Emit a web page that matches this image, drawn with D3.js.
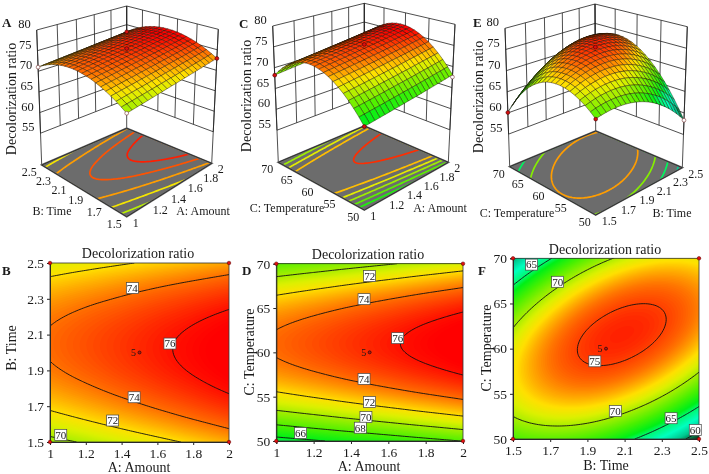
<!DOCTYPE html>
<html><head><meta charset="utf-8">
<style>
html,body{margin:0;padding:0;background:#fff;overflow:hidden}
svg{display:block;filter:blur(.35px)}
text{font-family:"Liberation Serif",serif;fill:#1a1a1a}
</style>
<script src="https://cdnjs.cloudflare.com/ajax/libs/d3/7.8.5/d3.min.js"></script>
</head><body><svg id="c" width="709" height="474"></svg>
<script>
// ---------- data ----------
const amountTicks=[1,1.2,1.4,1.6,1.8,2];
const timeTicks=[1.5,1.7,1.9,2.1,2.3,2.5];
const tempTicks=[50,55,60,65,70];
const zTicks=[55,60,65,70,75,80];
const zBottom=47.3, zTop=80;

// response read on a 9 x 9 lattice: outer index = first factor, inner = second factor (low to high)
const ratioAmountTime=[
[69.49,71.37,72.76,73.68,74.11,74.06,73.53,72.52,71.03],
[69.92,71.78,73.15,74.05,74.46,74.39,73.84,72.81,71.29],
[70.35,72.19,73.54,74.41,74.80,74.71,74.14,73.08,71.55],
[70.79,72.60,73.93,74.78,75.14,75.03,74.43,73.36,71.80],
[71.21,73.01,74.31,75.14,75.49,75.35,74.74,73.64,72.06],
[71.64,73.41,74.70,75.51,75.83,75.68,75.04,73.92,72.32],
[72.07,73.82,75.08,75.87,76.17,75.99,75.33,74.19,72.57],
[72.50,74.22,75.47,76.23,76.51,76.31,75.63,74.46,72.82],
[72.92,74.63,75.85,76.59,76.85,76.63,75.93,74.74,73.08]];
const ratioAmountTemp=[
[65.29,68.87,71.53,73.28,74.11,74.01,73.00,71.07,68.23],
[65.63,69.21,71.87,73.62,74.45,74.35,73.34,71.41,68.57],
[65.97,69.55,72.21,73.96,74.79,74.69,73.68,71.75,68.91],
[66.32,69.90,72.56,74.31,75.14,75.04,74.03,72.10,69.26],
[66.66,70.24,72.90,74.65,75.48,75.38,74.37,72.44,69.60],
[67.00,70.58,73.24,74.99,75.82,75.72,74.71,72.78,69.94],
[67.35,70.93,73.59,75.34,76.17,76.07,75.06,73.13,70.29],
[67.69,71.27,73.93,75.68,76.51,76.41,75.40,73.47,70.63],
[68.04,71.62,74.28,76.03,76.86,76.76,75.75,73.82,70.98]];
const ratioTimeTemp=[
[67.75,70.00,71.33,71.75,71.26,69.85,67.53,64.30,60.16],
[68.22,70.79,72.45,73.19,73.03,71.95,69.95,67.05,63.23],
[68.22,71.12,73.10,74.17,74.32,73.56,71.89,69.31,65.82],
[67.76,70.98,73.28,74.67,75.15,74.72,73.37,71.11,67.94],
[66.82,70.36,72.99,74.70,75.50,75.39,74.37,72.44,69.59],
[65.40,69.26,72.21,74.26,75.38,75.60,74.90,73.29,70.77],
[63.52,67.71,70.98,73.35,74.80,75.34,74.96,73.68,71.48],
[61.17,65.68,69.28,71.96,73.74,74.60,74.55,73.59,71.71],
[58.34,63.18,67.10,70.11,72.21,73.40,73.67,73.03,71.48]];

const levelsAB=[70,72,74,76], levelsAC=[66,68,70,72,74,76], levelsBC=[60,65,70,75];
const floorLevelsA=[70.3,71.7,73.2,74.6,75.7];
const floorLevelsC=[66.8,68.3,69.8,71.2,72.6,75.4];
const floorLevelsE=[60,64,68,72];
const labelsAB=[[74,1.46,2.36],[76,1.67,2.05],[74,1.47,1.75],[72,1.35,1.62],[70,1.06,1.54]];
const labelsAC=[[72,1.5,68.6],[74,1.47,66],[76,1.65,61.6],[74,1.47,57],[72,1.5,54.4],[70,1.48,52.7],[68,1.45,51.5],[66,1.13,50.9]];
const labelsBC=[[65,1.6,69.3],[70,1.74,67.4],[75,1.94,58.6],[70,2.05,53.1],[65,2.35,52.3],[60,2.48,51.0]];

// design points on the 3D views: first factor, second factor, response, open?
const pointsA=[[1,1.5,69.5,1],[1,2.5,71,1],[2,1.5,72.9,0],[2,2.5,73.1,0],[1.5,2,75.4,0]];
const pointsC=[[1,50,65.3,0],[1,70,68.2,0],[2,50,67.5,1],[1.5,60,75.4,0]];
const pointsE=[[1.5,50,67.7,0],[1.5,70,60.1,0],[2.5,50,58.3,1],[2,60,75.4,0]];

const colorStops=[58,59.5,61,63,65,66,68,70,71,72,73,74,75,76,76.5,78];
const colorValues=["#101810","#0a6a3c","#00c890","#00ffc0","#00f870","#00f018","#50f000","#a8ee00","#dcf000","#ffe000","#ffa800","#ff7000","#ff4000","#ff1000","#ff0000","#ff0000"];

// ---------- helpers ----------
const color=d3.scaleLinear().domain(colorStops).range(colorValues).clamp(true);
const svg=d3.select("#c");
const SERIF='"Liberation Serif",serif';

function at(g,i,j){
  const n=g.length-1,m=g[0].length-1;
  if(i<0) return 3*at(g,0,j)-3*at(g,1,j)+at(g,2,j);
  if(i>n) return 3*at(g,n,j)-3*at(g,n-1,j)+at(g,n-2,j);
  if(j<0) return 3*g[i][0]-3*g[i][1]+g[i][2];
  if(j>m) return 3*g[i][m]-3*g[i][m-1]+g[i][m-2];
  return g[i][j];
}
function cr(a,b,c,d,t){return .5*(2*b+(c-a)*t+(2*a-5*b+4*c-d)*t*t+(3*b-a-3*c+d)*t*t*t);}
function sample(g,s,t){
  const n=g.length-1,m=g[0].length-1;
  const fi=Math.min(n-1,Math.floor(s*n)),ti=s*n-fi;
  const fj=Math.min(m-1,Math.floor(t*m)),tj=t*m-fj;
  const col=k=>cr(at(g,fi+k,fj-1),at(g,fi+k,fj),at(g,fi+k,fj+1),at(g,fi+k,fj+2),tj);
  return cr(col(-1),col(0),col(1),col(2),ti);
}
function fine(g,N){
  const v=new Array(N*N);
  for(let j=0;j<N;j++)for(let i=0;i<N;i++)v[j*N+i]=sample(g,i/(N-1),j/(N-1));
  return v;
}
const N=81;
const gridS=d3.scaleLinear().domain([.5,N-.5]).range([0,1]);
function pathFor(fn){
  return d3.geoPath(d3.geoTransform({point(x,y){const p=fn(gridS(x),gridS(y));this.stream.point(p[0],p[1]);}}));
}
// perspective map of the unit square onto a quad: p00, p10, p11, p01
function quadMap(p0,p1,p2,p3){
  const dx1=p1[0]-p2[0],dx2=p3[0]-p2[0],sx=p0[0]-p1[0]+p2[0]-p3[0];
  const dy1=p1[1]-p2[1],dy2=p3[1]-p2[1],sy=p0[1]-p1[1]+p2[1]-p3[1];
  const den=dx1*dy2-dx2*dy1;
  const g=(sx*dy2-dx2*sy)/den,h=(dx1*sy-sx*dy1)/den;
  const a=p1[0]-p0[0]+g*p1[0],b=p3[0]-p0[0]+h*p3[0],d=p1[1]-p0[1]+g*p1[1],e=p3[1]-p0[1]+h*p3[1];
  return (u,v)=>{const q=g*u+h*v+1;return [(a*u+b*v+p0[0])/q,(d*u+e*v+p0[1])/q];};
}

// ---------- flat panel ----------
let clipId=0;
function flat(o){
  const g=svg.append("g");
  const x=d3.scaleLinear().domain(d3.extent(o.xt)).range([o.x0,o.x1]);
  const y=d3.scaleLinear().domain(d3.extent(o.yt)).range([o.y1,o.y0]);
  const sx=d3.scaleLinear().domain([0,1]).range([o.x0,o.x1]);
  const sy=d3.scaleLinear().domain([0,1]).range([o.y1,o.y0]);
  const id="clip"+(clipId++);
  g.append("clipPath").attr("id",id).append("rect").attr("x",o.x0).attr("y",o.y0).attr("width",o.x1-o.x0).attr("height",o.y1-o.y0);
  const inner=g.append("g").attr("clip-path",`url(#${id})`);
  const vals=fine(o.grid,N);
  const [lo,hi]=d3.extent(vals);
  inner.append("rect").attr("x",o.x0).attr("y",o.y0).attr("width",o.x1-o.x0).attr("height",o.y1-o.y0).attr("fill",color(lo));
  const path=pathFor((s,t)=>[sx(s),sy(t)]);
  const th=d3.range(Math.ceil(lo*10)/10,hi,.1);
  inner.selectAll("path.f").data(d3.contours().size([N,N]).thresholds(th)(vals)).join("path")
    .attr("class","f").attr("d",path).attr("fill",d=>color(d.value+.05));
  inner.selectAll("path.l").data(d3.contours().size([N,N]).thresholds(o.levels)(vals)).join("path")
    .attr("class","l").attr("d",path).attr("fill","none").attr("stroke","#111").attr("stroke-width",.9);
  const style=a=>{a.select(".domain").attr("stroke","#222");a.selectAll("line").attr("stroke","#222");
    a.selectAll("text").style("font-family",SERIF).style("font-size","13.5px").attr("fill","#1a1a1a");};
  g.append("g").attr("transform",`translate(0,${o.y1})`)
    .call(d3.axisBottom(x).tickValues(o.xt).tickSize(3).tickPadding(3).tickFormat(String)).call(style);
  g.append("g").attr("transform",`translate(${o.x0},0)`)
    .call(d3.axisLeft(y).tickValues(o.yt).tickSize(3).tickPadding(3).tickFormat(String)).call(style);
  g.append("rect").attr("x",o.x0).attr("y",o.y0).attr("width",o.x1-o.x0).attr("height",o.y1-o.y0)
    .attr("fill","none").attr("stroke","#333").attr("stroke-width",.8);
  // contour labels
  o.labels.forEach(([v,a,b])=>{
    const px=x(a),py=y(b);
    g.append("rect").attr("x",px-6).attr("y",py-5.5).attr("width",12).attr("height",11).attr("fill","#fff").attr("stroke","#444").attr("stroke-width",.7);
    g.append("text").attr("x",px).attr("y",py+3.8).attr("text-anchor","middle").style("font-size","11px").text(v);
  });
  // corner and centre points
  const cx=(o.xt[0]+o.xt[o.xt.length-1])/2, cy=(o.yt[0]+o.yt[o.yt.length-1])/2;
  d3.extent(o.xt).forEach(a=>d3.extent(o.yt).forEach(b=>{
    g.append("circle").attr("cx",x(a)).attr("cy",y(b)).attr("r",1.8).attr("fill","#e01010").attr("stroke","#500").attr("stroke-width",.5);
  }));
  g.append("circle").attr("cx",x(cx)).attr("cy",y(cy)).attr("r",1.5).attr("fill","#c01010").attr("stroke","#111").attr("stroke-width",.7);
  g.append("text").attr("x",x(cx)-3.5).attr("y",y(cy)+3.5).attr("text-anchor","end").style("font-size","10px").text("5");
  // titles
  g.append("text").attr("x",o.tx).attr("y",o.ty).attr("text-anchor","middle").style("font-size","14px").text("Decolorization ratio");
  g.append("text").attr("x",o.xtx).attr("y",o.xty).attr("text-anchor","middle").style("font-size","14px").text(o.xlabel);
  g.append("text").attr("transform",`translate(${o.ytx},${o.yty}) rotate(-90)`).attr("text-anchor","middle").style("font-size","14px").text(o.ylabel);
  g.append("text").attr("x",o.lx).attr("y",o.ly).style("font-size","13px").style("font-weight","bold").attr("fill","#000").text(o.letter);
}

// ---------- 3D panel ----------
function view(o){
  const g=svg.append("g");
  const c=o.c; // corners in page pixels: floor & top of front,right,left,back
  const lerp=(a,b,t)=>[a[0]+(b[0]-a[0])*t,a[1]+(b[1]-a[1])*t];
  const floorMap=quadMap(c.f0,c.r0,c.b0,c.l0), topMap=quadMap(c.f1,c.r1,c.b1,c.l1);
  const proj=(u,v,w)=>lerp(floorMap(u,v),topMap(u,v),w);
  const zs=d3.scaleLinear().domain([zBottom,zTop]).range([0,1]);
  const us=d3.scaleLinear().domain(d3.extent(o.xt)).range([0,1]);
  const vs=d3.scaleLinear().domain(d3.extent(o.yt)).range([0,1]);
  const line=d3.line();
  const seg=(a,b,sw)=>g.append("path").attr("d",line([a,b])).attr("fill","none").attr("stroke","#222").attr("stroke-width",sw||.8);
  // walls
  const wz=zs(zTicks[0]);
  zTicks.forEach(z=>{const w=zs(z);seg(proj(0,1,w),proj(1,1,w));seg(proj(1,1,w),proj(1,0,w));});
  o.xt.forEach(t=>{const u=us(t);seg(proj(u,1,wz),proj(u,1,1));});
  o.yt.forEach(t=>{const v=vs(t);seg(proj(1,v,wz),proj(1,v,1));});
  seg(proj(0,1,0),proj(0,1,1));seg(proj(1,0,0),proj(1,0,1));seg(proj(1,1,0),proj(1,1,1));
  // floor
  const floorPts=[proj(0,0,0),proj(1,0,0),proj(1,1,0),proj(0,1,0)];
  const id="clip"+(clipId++);
  g.append("clipPath").attr("id",id).append("path").attr("d",line(floorPts)+"Z");
  g.append("path").attr("d",line(floorPts)+"Z").attr("fill","#6c6c6c");
  const vals=fine(o.grid,N);
  g.append("g").attr("clip-path",`url(#${id})`).selectAll("path").data(d3.contours().size([N,N]).thresholds(o.levels)(vals)).join("path")
    .attr("d",pathFor((s,t)=>proj(s,t,0))).attr("fill","none").attr("stroke",d=>color(d.value+(o.floorShift||0))).attr("stroke-width",1.7);
  g.append("path").attr("d",line(floorPts)+"Z").attr("fill","none").attr("stroke","#6c6c6c").attr("stroke-width",1.8);
  g.append("path").attr("d",line(floorPts)+"Z").attr("fill","none").attr("stroke","#222").attr("stroke-width",.8);
  // surface
  const M=20;
  const z=(i,j)=>zs(sample(o.grid,i/M,j/M));
  const cells=[];
  for(let i=0;i<M;i++)for(let j=0;j<M;j++)cells.push([i,j]);
  cells.sort((a,b)=>(b[0]+b[1])-(a[0]+a[1]));
  g.append("g").selectAll("path").data(cells).join("path")
    .attr("d",([i,j])=>line([proj(i/M,j/M,z(i,j)),proj((i+1)/M,j/M,z(i+1,j)),proj((i+1)/M,(j+1)/M,z(i+1,j+1)),proj(i/M,(j+1)/M,z(i,j+1))])+"Z")
    .attr("fill",([i,j])=>color(sample(o.grid,(i+.5)/M,(j+.5)/M)))
    .attr("stroke","#1a1200").attr("stroke-opacity",.7).attr("stroke-width",.6);
  // points
  o.points.forEach(([a,b,r,open])=>{
    const p=proj(us(a),vs(b),zs(r));
    g.append("circle").attr("cx",p[0]).attr("cy",p[1]).attr("r",1.9).attr("fill",open?"#fff":"#d81010").attr("stroke",open?"#733":"#400").attr("stroke-width",.6);
  });
  // text
  zTicks.forEach(t=>{const p=proj(0,1,zs(t));
    g.append("text").attr("x",p[0]-6).attr("y",p[1]-2).attr("text-anchor","end").style("font-size","12.5px").text(t);});
  o.xt.forEach(t=>{const p=proj(us(t),0,0);
    g.append("text").attr("x",p[0]+6).attr("y",p[1]+10).style("font-size","12px").text(t);});
  o.yt.forEach(t=>{const p=proj(0,vs(t),0);
    g.append("text").attr("x",p[0]-5).attr("y",p[1]+11).attr("text-anchor","end").style("font-size","12px").text(t);});
  g.append("text").attr("x",o.ax[0]).attr("y",o.ax[1]).attr("text-anchor","middle").style("font-size","12px").text(o.xlabel);
  g.append("text").attr("x",o.ay[0]).attr("y",o.ay[1]).attr("text-anchor","middle").style("font-size","12px").text(o.ylabel);
  g.append("text").attr("transform",`translate(${o.zt[0]},${o.zt[1]}) rotate(-90)`).attr("text-anchor","middle").style("font-size","14px").text("Decolorization ratio");
  g.append("text").attr("x",o.lx).attr("y",o.ly).style("font-size","13px").style("font-weight","bold").attr("fill","#000").text(o.letter);
}

// layout: corner positions in pixels
view({letter:"A",lx:2,ly:27,grid:ratioAmountTime,xt:amountTicks,yt:timeTicks,levels:floorLevelsA,points:pointsA,
  xlabel:"A: Amount",ylabel:"B: Time",ax:[203,215],ay:[52,215],zt:[16,99],
  c:{f0:[126.7,216.7],r0:[211.7,163.3],l0:[41.7,165],b0:[126.7,128.3],f1:[126.7,64.3],r1:[218.3,29.3],l1:[36.7,30],b1:[126.7,6]}});
view({letter:"C",lx:239,ly:28,grid:ratioAmountTemp,xt:amountTicks,yt:tempTicks,levels:floorLevelsC,points:pointsC,
  xlabel:"A: Amount",ylabel:"C: Temperature",ax:[440,212],ay:[287,212],zt:[251,96],
  c:{f0:[364.3,210],r0:[448.3,162.3],l0:[278.3,162.3],b0:[364.3,126],f1:[364.3,58.3],r1:[455,24.3],l1:[272.7,26],b1:[364.3,3.3]}});
view({letter:"E",lx:473,ly:27,grid:ratioTimeTemp,xt:timeTicks,yt:tempTicks,levels:floorLevelsE,floorShift:1.2,points:pointsE,
  xlabel:"B: Time",ylabel:"C: Temperature",ax:[672,217],ay:[517,217],zt:[483,97],
  c:{f0:[595.7,215],r0:[682.3,167.7],l0:[509.7,166.7],b0:[595.7,131],f1:[595.7,61.3],r1:[687.3,26.7],l1:[505,28.3],b1:[595,4]}});

flat({letter:"B",lx:2,ly:275,grid:ratioAmountTime,xt:amountTicks,yt:timeTicks,levels:levelsAB,labels:labelsAB,
  x0:50,x1:229,y0:263,y1:442,tx:138,ty:258,xtx:139,xty:472,ytx:16,yty:348,xlabel:"A: Amount",ylabel:"B: Time"});
flat({letter:"D",lx:242,ly:275,grid:ratioAmountTemp,xt:amountTicks,yt:tempTicks,levels:levelsAC,labels:labelsAC,
  x0:276.3,x1:463,y0:263.7,y1:441,tx:368,ty:259,xtx:369,xty:471,ytx:254,yty:352,xlabel:"A: Amount",ylabel:"C: Temperature"});
flat({letter:"F",lx:478,ly:275,grid:ratioTimeTemp,xt:timeTicks,yt:tempTicks,levels:levelsBC,labels:labelsBC,
  x0:513,x1:699,y0:258.3,y1:439,tx:605,ty:254,xtx:606,xty:470,ytx:491,yty:348,xlabel:"B: Time",ylabel:"C: Temperature"});
</script></body></html>
